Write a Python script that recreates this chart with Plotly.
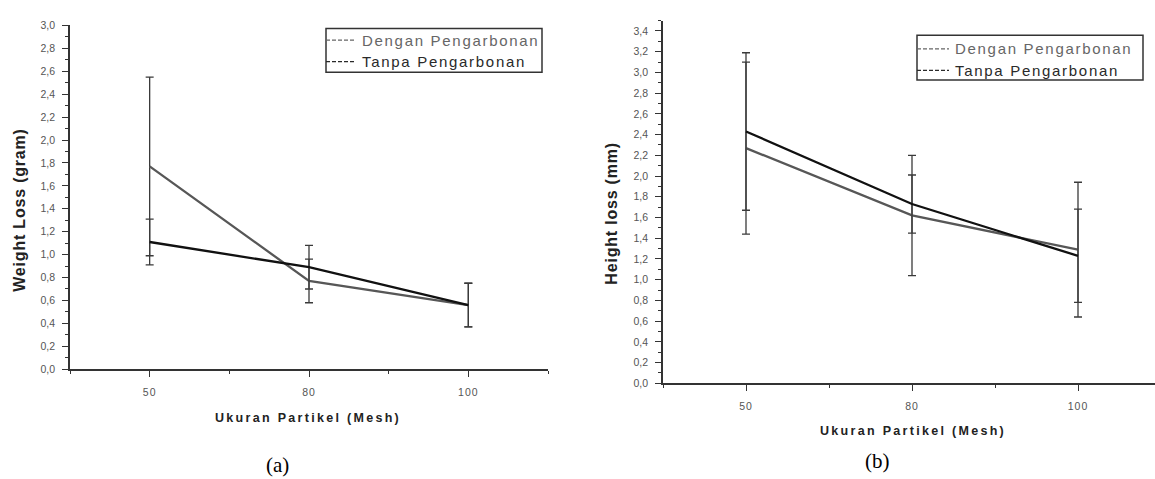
import plotly.graph_objects as go

# ---------------- data ----------------
mesh = ["50", "80", "100"]

# (a) Weight loss (gram)
wl_dengan = [1.77, 0.77, 0.56]
wl_dengan_err = [0.78, 0.19, 0.19]
wl_tanpa = [1.11, 0.89, 0.56]
wl_tanpa_err = [0.20, 0.19, 0.19]

# (b) Height loss (mm)
hl_dengan = [2.27, 1.62, 1.29]
hl_dengan_err = [0.83, 0.58, 0.65]
hl_tanpa = [2.43, 1.73, 1.23]
hl_tanpa_err = [0.76, 0.28, 0.45]

series_names = ["Dengan Pengarbonan", "Tanpa Pengarbonan"]

# ---------------- figure ----------------
W, H = 1155, 479
def px(x):
    return x / W
def py(y):
    return 1 - y / H

def spaced(text, ls):
    return f'<span style="letter-spacing:{ls}px">{text}</span>'

idx = list(range(len(mesh)))
GRAY = "#575757"
BLACK = "#111111"
AX = "#333333"
ERR = "#3a3a3a"

fig = go.Figure()

def add_series(y, err, color, xa, ya):
    fig.add_trace(go.Scatter(
        x=idx, y=y, mode="lines", xaxis=xa, yaxis=ya,
        line=dict(color=color, width=2.3),
        error_y=dict(type="data", array=err, visible=True,
                     color=ERR, thickness=1.3, width=4),
        showlegend=False, hoverinfo="skip"))

add_series(wl_dengan, wl_dengan_err, GRAY, "x", "y")
add_series(wl_tanpa, wl_tanpa_err, BLACK, "x", "y")
add_series(hl_dengan, hl_dengan_err, GRAY, "x2", "y2")
add_series(hl_tanpa, hl_tanpa_err, BLACK, "x2", "y2")

SANS = "Liberation Sans, Arial, sans-serif"
tickfont = dict(family=SANS, size=10.5, color="#555555")

def xaxis_cfg(domain, rng):
    return dict(domain=domain, range=rng, tickmode="array", tickvals=idx,
                ticktext=[spaced(m, 1) for m in mesh],
                ticks="outside", ticklen=6, tickwidth=1.3, tickcolor=AX,
                showline=True, linecolor=AX, linewidth=1.5,
                showgrid=False, zeroline=False, tickfont=tickfont,
                ticklabelstandoff=6,
                minor=dict(tickmode="linear", tick0=-0.5, dtick=0.5, ticks="outside",
                           ticklen=3, tickwidth=1.2, tickcolor=AX, showgrid=False))

def yaxis_cfg(domain, rng):
    return dict(domain=domain, range=rng, tick0=0, dtick=0.2, tickformat=".1f",
                ticks="outside", ticklen=6, tickwidth=1.3, tickcolor=AX,
                showline=True, linecolor=AX, linewidth=1.5,
                showgrid=False, zeroline=False, tickfont=tickfont,
                ticklabelstandoff=5,
                minor=dict(tick0=0, dtick=0.1, ticks="outside", ticklen=3,
                           tickwidth=1.2, tickcolor=AX, showgrid=False))

fig.update_layout(
    width=W, height=H, margin=dict(l=0, r=0, t=0, b=0),
    paper_bgcolor="white", plot_bgcolor="white",
    separators=",.", showlegend=False,
    xaxis=xaxis_cfg([px(70), px(548)], [-0.5, 2.5]) | dict(anchor="y"),
    yaxis=yaxis_cfg([py(372.5), py(20)], [0, 3.0]) | dict(anchor="x"),
    xaxis2=xaxis_cfg([px(663), 1.0], [-0.5, -0.5 + (W - 663) / 166.0]) | dict(anchor="y2"),
    yaxis2=yaxis_cfg([py(387), py(15)], [0, 3.5]) | dict(anchor="x2"),
)

annots = []
shapes = []
bold = dict(family=SANS, size=16, color="#222222", weight="bold")

# axis titles
annots.append(dict(x=px(20), y=py(210), xref="paper", yref="paper", text=spaced("Weight Loss (gram)", 0.8),
                   textangle=-90, showarrow=False, font=bold, xanchor="center", yanchor="middle"))
annots.append(dict(x=px(612), y=py(213), xref="paper", yref="paper", text=spaced("Height loss (mm)", 0.8),
                   textangle=-90, showarrow=False, font=bold, xanchor="center", yanchor="middle"))
xt_font = dict(family=SANS, size=12.5, color="#222222", weight="bold")
annots.append(dict(x=px(308), y=py(423), xref="paper", yref="paper", text=spaced("Ukuran Partikel (Mesh)", 2.3),
                   showarrow=False, font=xt_font, xanchor="center", yanchor="middle"))
annots.append(dict(x=px(913), y=py(436), xref="paper", yref="paper", text=spaced("Ukuran Partikel (Mesh)", 2.3),
                   showarrow=False, font=xt_font, xanchor="center", yanchor="middle"))

# captions
cap_font = dict(family="Liberation Serif, Times New Roman, serif", size=21, color="#000000")
annots.append(dict(x=px(277), y=py(471), xref="paper", yref="paper", text="(a)",
                   showarrow=False, font=cap_font, xanchor="center", yanchor="middle"))
annots.append(dict(x=px(877), y=py(467), xref="paper", yref="paper", text="(b)",
                   showarrow=False, font=cap_font, xanchor="center", yanchor="middle"))

# legends (boxes with dashed samples)
leg_font = dict(family=SANS, size=15)
def legend(x0, y0, x1, y1, rows, dash_len):
    shapes.append(dict(type="rect", xref="paper", yref="paper",
                       x0=px(x0), x1=px(x1), y0=py(y1), y1=py(y0),
                       line=dict(color="#333333", width=1.5), fillcolor="rgba(0,0,0,0)"))
    for (ry, name, color) in rows:
        shapes.append(dict(type="line", xref="paper", yref="paper",
                           x0=px(x0), x1=px(x0 + dash_len), y0=py(ry), y1=py(ry),
                           line=dict(color=color, width=1.3, dash="4px,2px")))
        annots.append(dict(x=px(x0 + dash_len + 4), y=py(ry), xref="paper", yref="paper",
                           text=spaced(name, 1.7), showarrow=False, xanchor="left", yanchor="middle",
                           font=leg_font | dict(color=color)))

legend(326, 23, 542, 68, [(35, series_names[0], "#666666"), (57, series_names[1], "#2a2a2a")], 30)
legend(917, 30, 1143, 76, [(44, series_names[0], "#666666"), (66, series_names[1], "#2a2a2a")], 32)

fig.update_layout(annotations=annots, shapes=shapes)
fig.write_html("out.html", config={"displayModeBar": False},
               post_script="document.body.style.margin='0';"
                           "document.documentElement.style.overflow='hidden';")
